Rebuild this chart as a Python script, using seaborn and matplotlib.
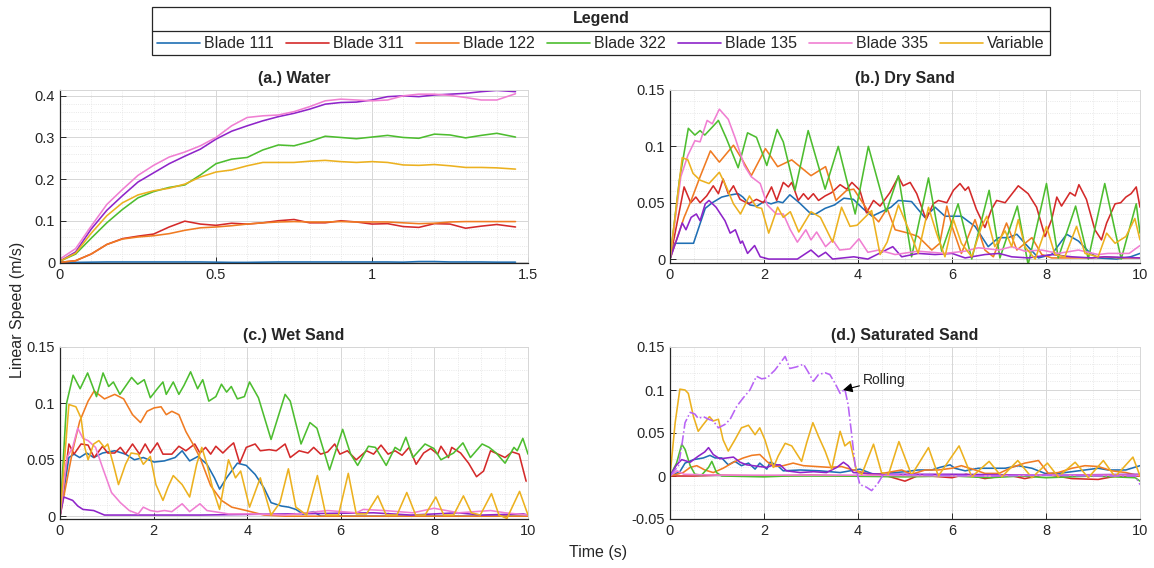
import matplotlib
matplotlib.use('Agg')
import pandas as pd
import matplotlib.pyplot as plt
import seaborn as sns
from matplotlib.ticker import MultipleLocator, FuncFormatter
from matplotlib.lines import Line2D
from matplotlib.patches import Rectangle

# --- series names and colours ---
names = ['Blade 111', 'Blade 311', 'Blade 122', 'Blade 322', 'Blade 135', 'Blade 335', 'Variable']
colors = ['#1f6fb4', '#d42a2a', '#f07b22', '#4dbd2f', '#8e24c9', '#f07fd2', '#ecb11f']

# --- (a) Water: shared time axis ---
water_t = [0, 0.05, 0.1, 0.15, 0.2, 0.25, 0.3, 0.35, 0.4, 0.45, 0.5, 0.55, 0.6, 0.65, 0.7,
           0.75, 0.8, 0.85, 0.9, 0.95, 1.0, 1.05, 1.1, 1.15, 1.2, 1.25, 1.3, 1.35, 1.4, 1.46]
water_111 = [0, 0, 0.0005, 0.001, 0.001, 0.001, 0.001, 0.001, 0.001, 0.001, 0.0005, 0, 0, 0.0005, 0.001,
             0.001, 0.001, 0.001, 0.001, 0.001, 0.001, 0.001, 0.0005, 0.002, 0.002, 0.001, 0.001, 0.001, 0.0005, 0.0005]
water_311 = [0, 0.004, 0.02, 0.043, 0.057, 0.063, 0.068, 0.085, 0.099, 0.092, 0.089, 0.094, 0.092, 0.095, 0.1,
             0.103, 0.095, 0.095, 0.1, 0.097, 0.092, 0.093, 0.086, 0.084, 0.093, 0.092, 0.082, 0.087, 0.091, 0.085]
water_122 = [0, 0.004, 0.02, 0.043, 0.056, 0.061, 0.064, 0.069, 0.077, 0.083, 0.085, 0.088, 0.092, 0.095, 0.097,
             0.098, 0.097, 0.097, 0.098, 0.097, 0.097, 0.097, 0.095, 0.093, 0.094, 0.097, 0.098, 0.098, 0.098, 0.098]
water_322 = [0.003, 0.02, 0.058, 0.095, 0.127, 0.155, 0.17, 0.18, 0.186, 0.21, 0.237, 0.248, 0.252, 0.27, 0.282,
             0.28, 0.29, 0.303, 0.3, 0.297, 0.301, 0.305, 0.3, 0.298, 0.308, 0.306, 0.299, 0.305, 0.31, 0.301]
water_135 = [0.003, 0.025, 0.08, 0.125, 0.16, 0.193, 0.215, 0.237, 0.255, 0.272, 0.296, 0.315, 0.328, 0.34, 0.35,
             0.358, 0.368, 0.38, 0.384, 0.385, 0.39, 0.398, 0.4, 0.398, 0.402, 0.404, 0.406, 0.41, 0.413, 0.41]
water_335 = [0.008, 0.033, 0.087, 0.139, 0.175, 0.209, 0.233, 0.253, 0.265, 0.28, 0.3, 0.328, 0.348, 0.352, 0.354,
             0.362, 0.374, 0.388, 0.392, 0.39, 0.388, 0.39, 0.4, 0.404, 0.404, 0.401, 0.396, 0.39, 0.39, 0.405]
water_var = [0.003, 0.022, 0.07, 0.112, 0.143, 0.162, 0.172, 0.178, 0.188, 0.205, 0.217, 0.222, 0.232, 0.24, 0.24,
             0.24, 0.243, 0.245, 0.242, 0.24, 0.242, 0.24, 0.234, 0.233, 0.235, 0.232, 0.228, 0.228, 0.227, 0.224]

# --- (b) Dry Sand: (time, speed) pairs ---
dry_111 = [(0, 0), (0.1, 0.014), (0.5, 0.014), (0.75, 0.045), (0.9, 0.05), (1.1, 0.055), (1.3, 0.057), (1.45, 0.058),
           (1.55, 0.055), (1.7, 0.048), (1.85, 0.047), (2.0, 0.051), (2.15, 0.049), (2.3, 0.051), (2.4, 0.05),
           (2.55, 0.057), (2.75, 0.05), (3.0, 0.04), (3.1, 0.04), (3.3, 0.045), (3.5, 0.048), (3.7, 0.054),
           (3.9, 0.053), (4.1, 0.045), (4.3, 0.038), (4.5, 0.042), (4.7, 0.046), (4.86, 0.052), (5.14, 0.051),
           (5.42, 0.037), (5.64, 0.046), (5.85, 0.038), (6.2, 0.038), (6.49, 0.029), (6.77, 0.011), (6.99, 0.019),
           (7.2, 0.019), (7.38, 0.022), (7.55, 0.014), (7.84, 0.001), (8.12, 0.004), (8.44, 0.022), (8.69, 0.016),
           (8.9, 0.007), (9.1, 0.001), (9.5, 0.0), (9.8, 0.002), (10, 0.005)]
dry_311 = [(0, 0), (0.3, 0.064), (0.44, 0.05), (0.55, 0.055), (0.64, 0.05), (0.78, 0.056), (0.92, 0.065), (1.03, 0.058),
           (1.13, 0.071), (1.24, 0.058), (1.35, 0.065), (1.49, 0.053), (1.67, 0.049), (1.84, 0.053), (1.99, 0.05),
           (2.16, 0.064), (2.27, 0.052), (2.41, 0.068), (2.52, 0.064), (2.59, 0.068), (2.73, 0.052), (2.84, 0.058),
           (2.94, 0.053), (3.05, 0.058), (3.16, 0.052), (3.3, 0.056), (3.44, 0.059), (3.62, 0.066), (3.76, 0.062),
           (3.87, 0.068), (4.04, 0.061), (4.18, 0.041), (4.33, 0.052), (4.47, 0.047), (4.68, 0.059), (4.86, 0.073),
           (4.96, 0.065), (5.11, 0.068), (5.25, 0.058), (5.45, 0.035), (5.6, 0.049), (5.71, 0.052), (5.89, 0.05),
           (6.03, 0.061), (6.17, 0.067), (6.28, 0.061), (6.35, 0.064), (6.52, 0.044), (6.7, 0.028), (6.84, 0.044),
           (6.95, 0.052), (7.13, 0.05), (7.41, 0.065), (7.62, 0.058), (7.8, 0.046), (7.98, 0.02), (8.12, 0.035),
           (8.23, 0.055), (8.33, 0.047), (8.51, 0.059), (8.62, 0.056), (8.7, 0.066), (8.86, 0.053), (9.04, 0.026),
           (9.18, 0.017), (9.29, 0.032), (9.47, 0.049), (9.59, 0.05), (9.7, 0.055), (9.81, 0.058), (9.92, 0.064),
           (10, 0.046)]
dry_122 = [(0, 0), (0.3, 0.037), (0.45, 0.052), (0.64, 0.073), (0.86, 0.096), (1.05, 0.086), (1.35, 0.101), (1.54, 0.088),
           (1.73, 0.074), (2.03, 0.098), (2.29, 0.082), (2.59, 0.088), (3.0, 0.074), (3.31, 0.082), (3.53, 0.052),
           (3.76, 0.061), (3.91, 0.062), (4.21, 0.043), (4.44, 0.033), (4.62, 0.045), (4.79, 0.026), (5.07, 0.023),
           (5.28, 0.02), (5.57, 0.008), (5.74, 0.014), (5.89, 0.047), (6.0, 0.029), (6.2, 0.005), (6.49, 0.035),
           (6.7, 0.008), (6.88, 0.002), (7.16, 0.032), (7.38, 0.008), (7.7, 0.019), (7.91, 0.004), (8.12, 0.001),
           (8.55, 0.001), (8.97, 0.001), (9.25, 0.002), (9.6, 0.001), (10, 0.001)]
dry_322 = [(0, 0), (0.2, 0.07), (0.39, 0.116), (0.53, 0.11), (0.64, 0.114), (0.74, 0.11), (0.92, 0.118), (1.03, 0.123),
           (1.2, 0.107), (1.45, 0.081), (1.65, 0.112), (1.84, 0.108), (2.06, 0.083), (2.28, 0.115), (2.41, 0.104),
           (2.66, 0.061), (2.94, 0.114), (3.3, 0.062), (3.58, 0.1), (3.94, 0.04), (4.22, 0.1), (4.6, 0.042),
           (4.86, 0.074), (5.14, 0.002), (5.5, 0.072), (5.78, 0.007), (6.13, 0.049), (6.42, 0.0), (6.79, 0.061),
           (7.02, 0.001), (7.39, 0.047), (7.62, -0.005), (8.01, 0.067), (8.26, 0.001), (8.63, 0.047), (8.9, 0.0),
           (9.25, 0.067), (9.6, 0.0), (9.92, 0.049), (10, 0.023)]
dry_135 = [(0, 0), (0.19, 0.023), (0.26, 0.032), (0.34, 0.026), (0.45, 0.037), (0.56, 0.04), (0.64, 0.034), (0.75, 0.049),
           (0.83, 0.052), (0.98, 0.046), (1.17, 0.034), (1.28, 0.023), (1.39, 0.026), (1.5, 0.014), (1.54, 0.016),
           (1.65, 0.005), (1.8, 0.012), (1.92, 0.002), (2.1, 0.0), (2.71, 0.0), (3.0, 0.008), (3.16, 0.002),
           (3.31, 0.006), (3.46, 0.0), (3.91, 0.002), (4.21, 0.0), (4.74, 0.011), (4.93, 0.002), (5.28, 0.005),
           (5.64, 0.004), (6.0, 0.005), (6.28, 0.001), (6.7, 0.004), (7.0, 0.005), (7.27, 0.002), (7.62, 0.001),
           (8.12, 0.004), (8.55, 0.002), (8.97, 0.001), (9.25, 0.002), (10, 0.001)]
dry_335 = [(0, 0), (0.23, 0.073), (0.38, 0.092), (0.53, 0.105), (0.64, 0.104), (0.79, 0.123), (0.9, 0.12), (1.05, 0.133),
           (1.24, 0.124), (1.39, 0.107), (1.58, 0.083), (1.73, 0.073), (1.92, 0.067), (2.07, 0.048), (2.26, 0.04),
           (2.41, 0.04), (2.56, 0.026), (2.71, 0.015), (2.89, 0.026), (3.0, 0.017), (3.12, 0.024), (3.31, 0.011),
           (3.46, 0.017), (3.61, 0.008), (3.83, 0.009), (4.02, 0.018), (4.21, 0.006), (4.44, 0.008), (4.79, 0.004),
           (5.28, 0.007), (5.85, 0.005), (6.28, 0.007), (6.56, 0.01), (7.0, 0.008), (7.27, 0.011), (7.55, 0.007),
           (7.91, 0.008), (8.26, 0.005), (8.69, 0.008), (9.11, 0.004), (9.32, 0.005), (9.77, 0.005), (10, 0.012)]
dry_var = [(0, 0), (0.26, 0.09), (0.38, 0.088), (0.49, 0.076), (0.64, 0.07), (0.83, 0.067), (1.05, 0.077), (1.2, 0.064),
           (1.35, 0.049), (1.5, 0.04), (1.69, 0.056), (1.84, 0.046), (1.95, 0.045), (2.1, 0.023), (2.29, 0.046),
           (2.41, 0.037), (2.56, 0.042), (2.74, 0.024), (3.0, 0.042), (3.2, 0.037), (3.46, 0.015), (3.65, 0.046),
           (3.83, 0.029), (3.98, 0.03), (4.29, 0.043), (4.47, 0.004), (4.62, 0.015), (4.86, 0.048), (5.14, 0.02),
           (5.28, 0.005), (5.5, 0.046), (5.67, 0.023), (5.85, 0.002), (6.03, 0.035), (6.2, 0.014), (6.42, 0.002),
           (6.63, 0.029), (6.74, 0.038), (6.91, 0.011), (7.13, 0.025), (7.27, 0.011), (7.41, 0.035), (7.55, 0.011),
           (7.77, 0.0), (8.01, 0.029), (8.19, 0.004), (8.4, 0.002), (8.65, 0.029), (8.83, 0.005), (9.11, 0.002),
           (9.29, 0.023), (9.47, 0.014), (9.7, 0.02), (9.89, 0.036), (10, 0.017)]

# --- (c) Wet Sand ---
wet_111 = [(0, 0), (0.19, 0.052), (0.3, 0.055), (0.42, 0.052), (0.57, 0.056), (0.72, 0.052), (0.91, 0.056), (1.17, 0.058),
           (1.4, 0.055), (1.59, 0.05), (1.78, 0.052), (2.01, 0.048), (2.23, 0.049), (2.46, 0.052), (2.61, 0.058),
           (2.77, 0.049), (2.95, 0.053), (3.14, 0.046), (3.3, 0.034), (3.41, 0.024), (3.56, 0.034), (3.79, 0.047),
           (3.98, 0.045), (4.17, 0.037), (4.36, 0.025), (4.51, 0.012), (4.73, 0.009), (4.89, 0.008), (5.04, 0.006),
           (5.19, 0.002), (5.42, 0.004), (5.57, 0.0), (10, 0.0)]
wet_311 = [(0, 0), (0.19, 0.064), (0.3, 0.055), (0.45, 0.064), (0.6, 0.063), (0.73, 0.052), (0.91, 0.062), (1.02, 0.056),
           (1.17, 0.056), (1.29, 0.061), (1.4, 0.055), (1.55, 0.064), (1.7, 0.055), (1.82, 0.064), (1.93, 0.056),
           (2.08, 0.065), (2.2, 0.055), (2.39, 0.055), (2.54, 0.062), (2.69, 0.058), (2.88, 0.064), (2.99, 0.056),
           (3.11, 0.061), (3.22, 0.055), (3.33, 0.062), (3.48, 0.056), (3.6, 0.061), (3.71, 0.065), (3.84, 0.047),
           (3.98, 0.061), (4.17, 0.064), (4.28, 0.058), (4.47, 0.059), (4.62, 0.058), (4.81, 0.064), (4.92, 0.052),
           (5.11, 0.058), (5.3, 0.056), (5.42, 0.061), (5.57, 0.055), (5.72, 0.057), (5.87, 0.064), (5.98, 0.055),
           (6.14, 0.058), (6.33, 0.05), (6.55, 0.058), (6.7, 0.055), (6.86, 0.063), (7.01, 0.055), (7.16, 0.058),
           (7.31, 0.054), (7.46, 0.061), (7.61, 0.046), (7.77, 0.056), (7.92, 0.06), (8.07, 0.055), (8.14, 0.062),
           (8.3, 0.052), (8.37, 0.061), (8.56, 0.056), (8.73, 0.047), (8.9, 0.035), (9.05, 0.04), (9.2, 0.058),
           (9.36, 0.055), (9.51, 0.052), (9.66, 0.057), (9.81, 0.055), (9.96, 0.031)]
wet_122 = [(0, 0), (0.27, 0.058), (0.42, 0.084), (0.6, 0.102), (0.73, 0.111), (0.95, 0.104), (1.17, 0.108), (1.36, 0.104),
           (1.55, 0.09), (1.72, 0.083), (1.86, 0.093), (2.01, 0.096), (2.16, 0.097), (2.27, 0.09), (2.39, 0.093),
           (2.54, 0.09), (2.69, 0.075), (2.84, 0.064), (2.99, 0.052), (3.22, 0.027), (3.45, 0.014), (3.67, 0.008),
           (3.98, 0.005), (4.36, 0.001), (4.81, 0.0), (10, 0.0)]
wet_322 = [(0, 0), (0.14, 0.1), (0.28, 0.125), (0.43, 0.113), (0.59, 0.127), (0.78, 0.106), (0.92, 0.127), (1.04, 0.115),
           (1.14, 0.119), (1.28, 0.108), (1.53, 0.123), (1.66, 0.117), (1.8, 0.121), (1.93, 0.105), (2.08, 0.113),
           (2.2, 0.119), (2.27, 0.108), (2.42, 0.119), (2.54, 0.108), (2.65, 0.116), (2.79, 0.128), (2.94, 0.113),
           (3.05, 0.121), (3.18, 0.102), (3.33, 0.106), (3.45, 0.117), (3.56, 0.11), (3.66, 0.115), (3.79, 0.104),
           (3.94, 0.106), (4.05, 0.119), (4.24, 0.105), (4.51, 0.068), (4.81, 0.108), (4.92, 0.102), (5.15, 0.064),
           (5.34, 0.083), (5.49, 0.078), (5.76, 0.041), (6.04, 0.077), (6.21, 0.055), (6.36, 0.045), (6.59, 0.062),
           (6.74, 0.061), (6.97, 0.045), (7.16, 0.061), (7.27, 0.058), (7.39, 0.07), (7.54, 0.052), (7.8, 0.064),
           (7.99, 0.06), (8.14, 0.05), (8.41, 0.056), (8.61, 0.065), (8.77, 0.052), (9.02, 0.064), (9.17, 0.061),
           (9.32, 0.056), (9.51, 0.047), (9.7, 0.061), (9.77, 0.058), (9.89, 0.069), (10, 0.055)]
wet_135 = [(0, 0), (0.08, 0.017), (0.27, 0.014), (0.38, 0.009), (0.49, 0.006), (0.72, 0.005), (0.95, 0.001), (3.0, 0.001),
           (6.7, 0.003), (7.5, 0.001), (8.5, 0.003), (9.0, 0.001), (9.9, 0.002), (10, 0.001)]
wet_335 = [(0, 0), (0.15, 0.052), (0.27, 0.061), (0.38, 0.078), (0.49, 0.069), (0.6, 0.067), (0.76, 0.061), (0.91, 0.043),
           (1.1, 0.021), (1.29, 0.012), (1.48, 0.005), (1.67, 0.002), (1.78, 0.008), (1.93, 0.005), (2.08, 0.004),
           (2.23, 0.005), (2.39, 0.004), (2.61, 0.011), (2.77, 0.004), (2.99, 0.011), (3.14, 0.005), (3.3, 0.004),
           (3.6, 0.002), (4.05, 0.002), (4.81, 0.001), (5.72, 0.005), (6.33, 0.003), (6.48, 0.006), (6.93, 0.005),
           (7.54, 0.003), (7.99, 0.007), (8.52, 0.003), (9.2, 0.005), (9.51, 0.003), (10, 0.001)]
wet_var = [(0, 0), (0.19, 0.099), (0.34, 0.097), (0.45, 0.087), (0.53, 0.061), (0.6, 0.05), (0.72, 0.064), (0.83, 0.067),
           (0.95, 0.061), (1.02, 0.064), (1.14, 0.046), (1.25, 0.028), (1.4, 0.046), (1.52, 0.056), (1.67, 0.055),
           (1.78, 0.046), (1.93, 0.053), (2.05, 0.028), (2.2, 0.014), (2.31, 0.026), (2.42, 0.036), (2.61, 0.028),
           (2.77, 0.017), (2.92, 0.046), (3.03, 0.061), (3.14, 0.046), (3.26, 0.025), (3.41, 0.006), (3.6, 0.05),
           (3.75, 0.034), (3.86, 0.04), (4.05, 0.008), (4.28, 0.034), (4.51, 0.001), (4.7, 0.012), (4.88, 0.042),
           (5.04, 0.008), (5.27, 0.001), (5.5, 0.036), (5.68, 0.001), (5.95, 0.001), (6.16, 0.038), (6.33, 0.002),
           (6.55, 0.002), (6.79, 0.018), (6.97, 0.001), (7.2, 0.001), (7.41, 0.021), (7.6, 0.001), (7.8, 0.001),
           (8.03, 0.017), (8.2, 0.001), (8.41, 0.001), (8.62, 0.018), (8.79, 0.003), (8.98, 0.001), (9.22, 0.02),
           (9.38, 0.001), (9.55, -0.002), (9.82, 0.022), (10, 0.001)]

# --- (d) Saturated Sand ---
sat_111 = [(0, 0), (0.21, 0.005), (0.32, 0.015), (0.5, 0.019), (0.71, 0.021), (0.85, 0.024), (0.96, 0.021), (1.1, 0.021),
           (1.24, 0.013), (1.38, 0.017), (1.52, 0.012), (1.67, 0.015), (1.81, 0.008), (1.91, 0.015), (2.06, 0.008),
           (2.13, 0.016), (2.27, 0.013), (2.41, 0.006), (2.77, 0.007), (3.19, 0.006), (3.62, 0.004), (4.04, 0.008),
           (4.33, 0.002), (4.79, 0.004), (5.0, 0.005), (5.28, 0.007), (5.57, 0.007), (5.74, 0.01), (5.96, 0.013),
           (6.06, 0.009), (6.28, 0.006), (6.56, 0.009), (6.84, 0.009), (7.13, 0.009), (7.41, 0.012), (7.7, 0.009),
           (7.98, 0.003), (8.26, 0.003), (8.55, 0.005), (8.83, 0.007), (9.11, 0.009), (9.32, 0.007), (9.7, 0.007),
           (10, 0.012)]
sat_311 = [(0, 0), (0.5, 0.0), (1.0, 0.001), (2.0, 0.0), (3.0, 0.001), (4.0, 0.0), (4.5, 0.002), (5.0, -0.006),
           (5.3, 0.001), (6.0, -0.002), (6.3, 0.002), (6.7, -0.003), (7.2, 0.001), (7.55, -0.003), (8.0, 0.002),
           (8.55, -0.003), (9.11, -0.004), (9.5, 0.0), (10, 0.0)]
sat_122 = [(0, 0), (0.28, 0.004), (0.43, 0.01), (0.57, 0.012), (0.74, 0.007), (0.92, 0.004), (1.13, 0.009), (1.35, 0.016),
           (1.56, 0.021), (1.74, 0.024), (1.91, 0.025), (2.06, 0.017), (2.2, 0.011), (2.41, 0.012), (2.62, 0.015),
           (2.84, 0.012), (3.12, 0.011), (3.4, 0.01), (3.65, 0.011), (3.83, 0.008), (4.04, 0.005), (4.33, 0.001),
           (4.72, 0.005), (4.93, 0.007), (5.14, 0.002), (5.43, 0.007), (5.71, 0.007), (6.0, 0.009), (6.2, 0.012),
           (6.49, 0.007), (6.7, 0.003), (7.0, 0.003), (7.27, 0.01), (7.55, 0.015), (7.84, 0.018), (8.05, 0.003),
           (8.26, 0.004), (8.55, 0.009), (8.83, 0.012), (9.11, 0.011), (9.4, 0.006), (9.7, 0.004), (10, 0.0)]
sat_322 = [(0, 0), (0.14, 0.015), (0.25, 0.037), (0.32, 0.031), (0.43, 0.012), (0.53, 0.002), (0.67, 0.001), (0.82, 0.01),
           (0.89, 0.017), (0.99, 0.004), (1.1, 0.0), (2.0, -0.001), (2.5, 0.0), (3.5, 0.0), (5.0, -0.001), (6.0, 0.0),
           (6.8, -0.002), (7.5, 0.0), (8.0, -0.002), (9.0, 0.0), (9.9, -0.002), (10, -0.006)]
sat_135 = [(0, 0), (0.14, 0.013), (0.25, 0.019), (0.43, 0.016), (0.6, 0.023), (0.74, 0.028), (0.82, 0.033), (0.92, 0.025),
           (1.06, 0.02), (1.21, 0.021), (1.35, 0.022), (1.49, 0.016), (1.63, 0.013), (1.77, 0.012), (1.91, 0.011),
           (2.06, 0.01), (2.2, 0.013), (2.34, 0.013), (2.48, 0.006), (2.77, 0.004), (3.05, 0.005), (3.33, 0.004),
           (3.55, 0.01), (3.69, 0.016), (3.79, 0.012), (3.9, 0.004), (4.5, 0.002), (6.0, 0.002), (8.0, 0.001),
           (10, 0.002)]
sat_335 = [(0, 0), (0.15, 0.006), (0.3, 0.002), (1.0, 0.001), (2.0, 0.001), (4.0, 0.001), (6.0, 0.0), (8.0, 0.001),
           (10, 0.001)]
sat_var = [(0, 0), (0.11, 0.062), (0.21, 0.101), (0.32, 0.1), (0.39, 0.096), (0.5, 0.069), (0.6, 0.052), (0.71, 0.06),
           (0.84, 0.069), (0.92, 0.064), (1.03, 0.066), (1.13, 0.042), (1.24, 0.029), (1.38, 0.042), (1.52, 0.056),
           (1.67, 0.059), (1.81, 0.048), (1.91, 0.056), (2.02, 0.042), (2.2, 0.01), (2.3, 0.023), (2.45, 0.038),
           (2.59, 0.035), (2.8, 0.017), (2.91, 0.039), (3.04, 0.062), (3.16, 0.046), (3.3, 0.029), (3.44, 0.008),
           (3.62, 0.052), (3.72, 0.035), (3.83, 0.04), (3.97, 0.006), (4.08, 0.002), (4.33, 0.037), (4.5, 0.004),
           (4.65, 0.002), (4.87, 0.04), (5.14, 0.001), (5.5, 0.033), (5.71, 0.0), (6.15, 0.035), (6.42, -0.001),
           (6.79, 0.017), (7.06, -0.001), (7.4, 0.018), (7.7, -0.002), (8.03, 0.015), (8.26, -0.001), (8.62, 0.016),
           (8.9, -0.002), (9.22, 0.018), (9.47, -0.001), (9.85, 0.022), (10, 0.0)]
sat_rolling = [(0, 0), (0.18, 0.012), (0.25, 0.035), (0.32, 0.062), (0.43, 0.074), (0.53, 0.072), (0.6, 0.067),
               (0.71, 0.069), (0.82, 0.066), (0.92, 0.064), (1.03, 0.056), (1.17, 0.06), (1.28, 0.066), (1.42, 0.081),
               (1.56, 0.091), (1.7, 0.1), (1.84, 0.116), (1.95, 0.113), (2.06, 0.114), (2.23, 0.123), (2.34, 0.131),
               (2.45, 0.139), (2.55, 0.125), (2.7, 0.127), (2.84, 0.13), (2.94, 0.121), (3.05, 0.11), (3.16, 0.118),
               (3.3, 0.12), (3.4, 0.118), (3.51, 0.108), (3.62, 0.096), (3.72, 0.101), (3.79, 0.083), (3.87, 0.046),
               (3.94, 0.012), (4.04, -0.01), (4.18, -0.013), (4.29, -0.017), (4.43, -0.008), (4.54, 0.002),
               (5.5, 0.001), (6.8, 0.0), (8.0, 0.001), (9.0, 0.0), (9.9, 0.0), (10, -0.01)]

# --- style ---
sns.set_style('white')
plt.rcParams['font.family'] = ['Liberation Sans', 'DejaVu Sans']
plt.rcParams['axes.unicode_minus'] = False


def long_table(series):
    frames = []
    for name, pts in zip(names, series):
        t, v = zip(*pts)
        frames.append(pd.DataFrame({'Time': t, 'Speed': v, 'Series': name}))
    return pd.concat(frames, ignore_index=True)


def style_axes(ax, title, xlim, xmaj, xminr, ylim, ymaj, yminr):
    ax.set_xlim(*xlim)
    ax.set_ylim(*ylim)
    ax.xaxis.set_major_locator(MultipleLocator(xmaj))
    ax.xaxis.set_minor_locator(MultipleLocator(xminr))
    ax.yaxis.set_major_locator(MultipleLocator(ymaj))
    ax.yaxis.set_minor_locator(MultipleLocator(yminr))
    fmt = FuncFormatter(lambda v, p: '%g' % round(v, 4))
    ax.xaxis.set_major_formatter(fmt)
    ax.yaxis.set_major_formatter(fmt)
    ax.grid(which='major', color='#d6d6d6', lw=0.7, ls='-')
    ax.grid(which='minor', color='#e2e2e2', lw=0.6, ls=':')
    ax.set_axisbelow(True)
    for s in ['left', 'bottom']:
        ax.spines[s].set_color('#262626')
        ax.spines[s].set_linewidth(0.9)
    for s in ['top', 'right']:
        ax.spines[s].set_color('#d6d6d6')
        ax.spines[s].set_linewidth(0.7)
    ax.tick_params(which='major', direction='in', length=4, width=0.7, labelsize=10.5,
                   colors='#262626', bottom=True, left=True, top=False, right=False)
    ax.tick_params(which='minor', length=0)
    ax.set_xlabel('')
    ax.set_ylabel('')
    ax.set_title(title, fontsize=11.5, fontweight='bold', color='#262626', pad=5)


fig = plt.figure(figsize=(11.54, 5.68), dpi=100)
W, H = 1154, 568


def axes_at(x0, x1, y0, y1):
    return fig.add_axes([x0 / W, 1 - y1 / H, (x1 - x0) / W, (y1 - y0) / H])


ax_a = axes_at(60, 528, 90, 263)
ax_b = axes_at(670, 1140, 90, 263)
ax_c = axes_at(60, 528, 347, 519)
ax_d = axes_at(670, 1140, 347, 519)

water_series = [list(zip(water_t, v)) for v in
                [water_111, water_311, water_122, water_322, water_135, water_335, water_var]]
panels = [
    (ax_a, water_series, '(a.) Water', (0, 1.5), 0.5, 0.1, (-0.0015, 0.414), 0.1, 0.02),
    (ax_b, [dry_111, dry_311, dry_122, dry_322, dry_135, dry_335, dry_var], '(b.) Dry Sand',
     (0, 10), 2, 0.5, (-0.0035, 0.15), 0.05, 0.01),
    (ax_c, [wet_111, wet_311, wet_122, wet_322, wet_135, wet_335, wet_var], '(c.) Wet Sand',
     (0, 10), 2, 0.5, (-0.0025, 0.15), 0.05, 0.01),
    (ax_d, [sat_111, sat_311, sat_122, sat_322, sat_135, sat_335, sat_var], '(d.) Saturated Sand',
     (0, 10), 2, 0.5, (-0.05, 0.15), 0.05, 0.01),
]

for ax, series, title, xl, xm, xn, yl, ym, yn in panels:
    df = long_table(series)
    sns.lineplot(data=df, x='Time', y='Speed', hue='Series', hue_order=names, palette=colors,
                 estimator=None, sort=False, legend=False, ax=ax, linewidth=1.15)
    style_axes(ax, title, xl, xm, xn, yl, ym, yn)

# rolling trace in saturated sand
t_r, v_r = zip(*sat_rolling)
sns.lineplot(x=list(t_r), y=list(v_r), ax=ax_d, color='#b863f5', linewidth=1.15,
             linestyle='-.', estimator=None, sort=False)
ax_d.set_xlabel('')
ax_d.set_ylabel('')
ax_d.annotate('Rolling', xy=(3.68, 0.1), xytext=(4.1, 0.112), fontsize=10, color='#262626',
              va='center', ha='left',
              arrowprops=dict(arrowstyle='-|>', color='black', lw=0.8, mutation_scale=14,
                              shrinkA=0, shrinkB=0))

# shared labels
fig.text(598 / W, 1 - 552 / H, 'Time (s)', ha='center', va='center', fontsize=11.5, color='#262626')
fig.text(18 / W, 1 - 310 / H, 'Linear Speed (m/s)', ha='center', va='center', rotation=90,
         fontsize=11.5, color='#262626')

# legend box
fig.patches.append(Rectangle((152 / W, 1 - 55 / H), 898 / W, 48 / H, transform=fig.transFigure,
                             fill=False, edgecolor='#262626', lw=0.9))
fig.lines.append(Line2D([152 / W, 1050 / W], [1 - 31 / H, 1 - 31 / H], transform=fig.transFigure,
                        color='#262626', lw=0.9))
fig.text(601 / W, 1 - 19 / H, 'Legend', ha='center', va='center', fontsize=11.5,
         fontweight='bold', color='#262626')
handles = [Line2D([0], [0], color=c, lw=1.2) for c in colors]
fig.legend(handles, names, loc='center', bbox_to_anchor=(601 / W, 1 - 44 / H), ncol=7, frameon=False,
           fontsize=11.5, handlelength=2.7, handletextpad=0.25, columnspacing=0.75, borderpad=0)

fig.savefig('out.png', dpi=100)
